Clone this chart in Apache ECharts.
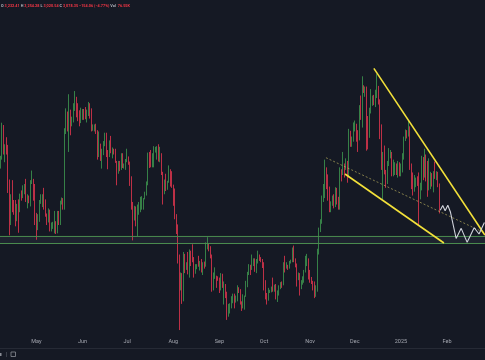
<!DOCTYPE html>
<html>
<head>
<meta charset="utf-8">
<script src="https://cdn.jsdelivr.net/npm/echarts@6/dist/echarts.min.js"></script>
<style>
html,body{margin:0;padding:0;background:#151924;}
#c{width:485px;height:360px;}
</style>
</head>
<body>
<div id="c"></div>
<script>
// ---- categories (daily) ----
const startDate = '2024-04-07';
const totalDays = 326; // visible daily slots, Apr 7 2024 .. Feb 26 2025
const monthTickLabels = {
  '2024-05':'May','2024-06':'Jun','2024-07':'Jul','2024-08':'Aug','2024-09':'Sep',
  '2024-10':'Oct','2024-11':'Nov','2024-12':'Dec','2025-01':'2025','2025-02':'Feb'
};

// ---- daily candles: [open, close, low, high] ----
const candlesApr = [
[3380,3455,3370,3470],[3455,3700,3440,3728],[3700,3505,3480,3710],[3505,3545,3420,3560],
[3545,3505,3480,3615],[3505,3240,3180,3555],[3240,3005,2850,3285],[3005,3155,2930,3170],
[3155,3100,3030,3280],[3100,3085,3010,3125],[3085,2985,2920,3125],[2985,3065,2960,3095],
[3065,3060,2870,3130],[3060,3155,3030,3175],[3155,3145,3120,3200],[3145,3200,3140,3240],
[3200,3220,3170,3250],[3220,3140,3110,3290],[3140,3155,3060,3170],[3155,3130,3100,3160],
[3130,3255,3075,3280],[3255,3265,3250,3355],[3265,3215,3120,3290],[3215,3010,2930,3250]
];
const candlesMay = [
[3010,2970,2815,3025],[2970,2990,2890,3015],[2990,3105,2955,3125],[3105,3120,3095,3170],
[3120,3135,3070,3170],[3135,3065,3050,3220],[3065,3005,2995,3130],[3005,2975,2930,3020],
[2975,3035,2950,3060],[3035,2910,2880,3050],[2910,2915,2880,2950],[2915,2930,2900,2955],
[2930,2950,2865,3040],[2950,2880,2860,2960],[2880,3035,2865,3040],[3035,2945,2930,3040],
[2945,3095,2930,3120],[3095,3120,3090,3145],[3120,3070,3050,3140],[3070,3665,3050,3685],
[3665,3790,3640,3840],[3790,3740,3660,3815],[3740,3780,3500,3950],[3780,3725,3630,3830],
[3725,3750,3700,3775],[3750,3825,3730,3880],[3825,3890,3820,3975],[3890,3845,3770,3930],
[3845,3765,3740,3880],[3765,3745,3700,3825],[3745,3760,3725,3845]
];
const candlesJun = [
[3760,3815,3750,3835],[3815,3780,3750,3835],[3780,3765,3755,3850],[3765,3810,3730,3830],
[3810,3865,3780,3890],[3865,3810,3760,3880],[3810,3680,3660,3840],[3680,3680,3665,3715],
[3680,3705,3660,3715],[3705,3665,3640,3720],[3665,3500,3440,3670],[3500,3560,3460,3660],
[3560,3470,3430,3565],[3470,3480,3370,3525],[3480,3565,3475,3585],[3565,3620,3545,3650],
[3620,3510,3460,3650],[3510,3485,3365,3515],[3485,3560,3460,3590],[3560,3515,3490,3625],
[3515,3520,3450,3535],[3520,3495,3480,3525],[3495,3420,3415,3525],[3420,3350,3240,3430],
[3350,3390,3330,3430],[3390,3370,3350,3430],[3370,3450,3360,3490],[3450,3380,3375,3490],
[3380,3380,3370,3410],[3380,3435,3360,3445]
];
const candlesJul = [
[3435,3440,3420,3525],[3440,3420,3400,3465],[3420,3295,3235,3425],[3295,3060,3050,3310],
[3060,2985,2810,3110],[2985,3070,2965,3080],[3070,2930,2920,3075],[2930,3020,2840,3090],
[3020,3065,3010,3110],[3065,3100,3030,3150],[3100,3100,3050,3155],[3100,3130,3050,3140],
[3130,3180,3130,3190],[3180,3245,3160,3270],[3245,3485,3240,3495],[3485,3445,3375,3500],
[3445,3390,3380,3515],[3390,3425,3380,3490],[3425,3505,3380,3545],[3505,3515,3495,3540],
[3515,3535,3440,3545],[3535,3440,3425,3560],[3440,3480,3420,3540],[3480,3335,3320,3490],
[3335,3170,3090,3345],[3170,3275,3170,3285],[3275,3250,3195,3330],[3250,3270,3205,3275],
[3270,3320,3260,3395],[3320,3280,3230,3365],[3280,3230,3220,3350]
];
const candlesAug = [
[3230,3200,3080,3245],[3200,2990,2975,3215],[2990,2900,2860,3015],[2900,2690,2630,2935],
[2690,2420,2111,2700],[2420,2460,2420,2560],[2460,2345,2315,2555],[2345,2680,2335,2720],
[2680,2600,2555,2705],[2600,2610,2580,2640],[2610,2555,2545,2720],[2555,2725,2520,2740],
[2725,2700,2610,2730],[2700,2660,2640,2780],[2660,2570,2520,2680],[2570,2590,2550,2625],
[2590,2615,2585,2625],[2615,2610,2605,2690],[2610,2635,2575,2650],[2635,2575,2560,2665],
[2575,2630,2540,2640],[2630,2620,2590,2645],[2620,2760,2605,2795],[2760,2770,2740,2835],
[2770,2750,2725,2790],[2750,2680,2670,2765],[2680,2460,2410,2700],[2460,2530,2420,2560],
[2530,2530,2510,2600],[2530,2525,2440,2535],[2525,2510,2495,2530]
];
const candlesSep = [
[2510,2425,2400,2520],[2425,2540,2420,2555],[2540,2450,2440,2550],[2450,2450,2310,2490],
[2450,2370,2360,2470],[2370,2225,2190,2410],[2225,2275,2215,2315],[2275,2300,2240,2320],
[2300,2360,2280,2375],[2360,2390,2320,2395],[2390,2340,2280,2395],[2340,2360,2325,2380],
[2360,2440,2335,2460],[2440,2420,2400,2445],[2420,2315,2310,2430],[2315,2290,2260,2335],
[2290,2340,2280,2390],[2340,2375,2270,2380],[2375,2465,2370,2495],[2465,2560,2445,2565],
[2560,2615,2540,2625],[2615,2580,2540,2620],[2580,2645,2580,2700],[2645,2655,2610,2670],
[2655,2580,2565,2670],[2580,2635,2555,2665],[2635,2700,2630,2730],[2700,2675,2650,2700],
[2675,2660,2640,2680],[2660,2605,2595,2665]
];
const candlesOct = [
[2605,2450,2420,2640],[2450,2365,2350,2500],[2365,2350,2310,2400],[2350,2415,2340,2440],
[2415,2415,2400,2425],[2415,2440,2405,2450],[2440,2420,2410,2520],[2420,2440,2410,2465],
[2440,2370,2350,2470],[2370,2390,2330,2420],[2390,2440,2380,2460],[2440,2475,2430,2485],
[2475,2470,2440,2490],[2470,2630,2460,2640],[2630,2605,2560,2690],[2605,2615,2590,2640],
[2615,2600,2580,2620],[2600,2640,2590,2650],[2640,2645,2630,2660],[2645,2745,2640,2755],
[2745,2665,2640,2770],[2665,2620,2600,2670],[2620,2525,2450,2630],[2525,2535,2500,2560],
[2535,2440,2380,2555],[2440,2480,2430,2500],[2480,2505,2465,2530],[2505,2570,2480,2580],
[2570,2640,2560,2690],[2640,2660,2610,2705],[2660,2520,2505,2670]
];
const candlesNov = [
[2520,2515,2480,2580],[2515,2490,2470,2525],[2490,2460,2420,2495],[2460,2400,2360,2490],
[2400,2420,2370,2460],[2420,2720,2410,2745],[2720,2895,2700,2910],[2895,2960,2875,2975],
[2960,3125,2940,3160],[3125,3180,3110,3250],[3180,3370,3140,3440],[3370,3245,3210,3380],
[3245,3185,3120,3325],[3185,3060,3030,3230],[3060,3095,3030,3115],[3095,3135,3080,3160],
[3135,3075,3060,3170],[3075,3210,3070,3225],[3210,3105,3090,3220],[3105,3070,3050,3150],
[3070,3355,3050,3380],[3355,3330,3270,3365],[3330,3390,3320,3500],[3390,3360,3300,3410],
[3360,3415,3360,3450],[3415,3325,3260,3430],[3325,3655,3300,3680],[3655,3580,3540,3665],
[3580,3590,3540,3620],[3590,3705,3580,3730]
];
const candlesDec = [
[3705,3705,3660,3745],[3705,3640,3580,3720],[3640,3615,3500,3670],[3615,3830,3590,3865],
[3830,3790,3750,3940],[3790,4000,3690,4090],[4000,3995,3960,4020],[3995,4005,3930,4010],
[4005,3710,3510,4010],[3710,3630,3520,3780],[3630,3830,3610,3845],[3830,3880,3800,3990],
[3880,3905,3860,3940],[3905,3875,3865,3945],[3875,3960,3850,3985],[3960,3985,3920,4107],
[3985,3890,3870,4015],[3890,3630,3600,3910],[3630,3420,3360,3715],[3420,3470,3130,3500],
[3470,3330,3325,3550],[3330,3280,3220,3360],[3280,3415,3250,3430],[3415,3490,3390,3530],
[3490,3490,3450,3515],[3490,3330,3310,3500],[3330,3330,3310,3440],[3330,3400,3320,3420],
[3400,3350,3320,3410],[3350,3360,3300,3430],[3360,3330,3310,3420]
];
const candlesJan = [
[3330,3350,3310,3410],[3350,3450,3340,3490],[3450,3605,3440,3620],[3605,3655,3585,3675],
[3655,3635,3605,3670],[3635,3685,3620,3745],[3685,3380,3360,3700],[3380,3325,3210,3410],
[3325,3220,3160,3340],[3220,3265,3190,3320],[3265,3280,3225,3300],[3280,3265,3235,3310],
[3265,3135,2930,3340],[3135,3225,3130,3260],[3225,3450,3200,3470],[3450,3310,3280,3460],
[3310,3470,3300,3525],[3470,3305,3270,3480],[3305,3215,3150,3430],[3215,3290,3200,3450],
[3290,3325,3210,3345],[3325,3240,3230,3335],[3240,3340,3185,3350],[3340,3310,3290,3425],
[3310,3315,3280,3350],[3315,3232.41,3225,3345],[3232.41,3078.35,3020.54,3254.28]
];

// ---- horizontal support zone (price) ----
const zoneTop = 2841;
const zoneBottom = 2786;

// ---- drawings: [day index from start, price] ----
const upperTrend = [[250.8,4152],[325.4,2852]];
const lowerTrend = [[231.4,3328],[297.9,2790]];
const midDotted  = [[218.6,3455],[325.4,2868]];
const projection = [[295.4,3045],[297.1,3082],[298.7,3042],[300.5,3084],[302.2,3034],
  [306.1,2825],[309.5,2904],[313.5,2795],[318.2,2909],[321.5,2860],[325.1,2950]];

// ---- header legend values ----
const header = {O:'3,232.41', H:'3,254.28', L:'3,020.54', C:'3,078.35', chg:'\u2212154.06 (\u22124.77%)', vol:'76.55K'};

// build categories
const categories = [];
(function(){
  const d0 = new Date(startDate + 'T00:00:00Z');
  for (let i = 0; i < totalDays; i++) {
    const d = new Date(d0.getTime() + i * 86400000);
    const y = d.getUTCFullYear(), m = String(d.getUTCMonth()+1).padStart(2,'0'), dd = String(d.getUTCDate()).padStart(2,'0');
    categories.push(y + '-' + m + '-' + dd);
  }
})();
const candles = [].concat(candlesApr, candlesMay, candlesJun, candlesJul, candlesAug,
  candlesSep, candlesOct, candlesNov, candlesDec, candlesJan);

const xMin = -0.5, xMax = totalDays - 0.5;
const UP = '#3f9b51', DOWN = '#e8364f', ZONE = '#4b8d4f';
const chart = echarts.init(document.getElementById('c'), null, {renderer:'canvas'});
const fs = 3.8;
chart.setOption({
  backgroundColor: '#151924',
  animation: false,
  title: {
    left: 1, top: 4, padding: 0,
    text: '{l|O}{v|' + header.O + '} {l|H}{v|' + header.H + '} {l|L}{v|' + header.L + '} {l|C}{v|' + header.C + '} {v|' + header.chg + '} {l|Vol} {v|' + header.vol + '}',
    textStyle: {
      fontSize: fs, fontFamily: 'Roboto', color: '#b2b5be',
      rich: {
        l: {color: '#b2b5be', fontSize: fs, fontFamily: 'Roboto', padding: [0,1,0,0]},
        v: {color: '#f23645', fontSize: fs, fontFamily: 'Roboto'}
      }
    }
  },
  grid: {left: 0, right: 0, top: 0, bottom: 27},
  xAxis: [{
    type: 'category', data: categories, boundaryGap: true,
    axisLine: {show: false}, axisTick: {show: false}, splitLine: {show: false},
    axisLabel: {
      color: '#a3a6af', fontSize: 5.5, fontFamily: 'Roboto', margin: 6,
      interval: function (idx, val) { return val.slice(8) === '01' && monthTickLabels[val.slice(0,7)] !== undefined; },
      formatter: function (val) { return monthTickLabels[val.slice(0,7)] || ''; }
    }
  }, {
    type: 'value', min: xMin, max: xMax, show: false
  }],
  yAxis: {type: 'value', min: 2088, max: 4685, show: false, splitLine: {show: false}, scale: true},
  series: [{
    type: 'candlestick', xAxisIndex: 0, data: candles, barWidth: 1.1, z: 2,
    itemStyle: {color: UP, color0: DOWN, borderColor: UP, borderColor0: DOWN, borderWidth: 0.8},
    markArea: {
      silent: true,
      itemStyle: {color: 'rgba(120,130,145,0.10)', borderWidth: 0},
      data: [[{yAxis: zoneBottom}, {yAxis: zoneTop}]]
    }
  }, {
    type: 'line', xAxisIndex: 1, data: [[xMin, zoneTop],[xMax, zoneTop]], showSymbol: false, silent: true, z: 3,
    lineStyle: {color: ZONE, width: 1}
  }, {
    type: 'line', xAxisIndex: 1, data: [[xMin, zoneBottom],[xMax, zoneBottom]], showSymbol: false, silent: true, z: 3,
    lineStyle: {color: ZONE, width: 1}
  }, {
    type: 'line', xAxisIndex: 1, data: midDotted, showSymbol: false, silent: true, z: 4,
    lineStyle: {color: 'rgba(190,180,95,0.65)', width: 1, type: [2, 2]}
  }, {
    type: 'line', xAxisIndex: 1, data: upperTrend, showSymbol: false, silent: true, z: 5,
    lineStyle: {color: '#f3e13a', width: 1.6}
  }, {
    type: 'line', xAxisIndex: 1, data: lowerTrend, showSymbol: false, silent: true, z: 5,
    lineStyle: {color: '#f3e13a', width: 1.6}
  }, {
    type: 'line', xAxisIndex: 1, data: projection, showSymbol: false, silent: true, z: 5,
    lineStyle: {color: '#d1d4dc', width: 1.1}
  }],
  graphic: [
    {type: 'line', shape: {x1: 0, y1: 348.5, x2: 485, y2: 348.5}, style: {stroke: '#262a35', lineWidth: 1}},
    {type: 'line', shape: {x1: 6.5, y1: 352, x2: 6.5, y2: 357}, style: {stroke: '#3a3e49', lineWidth: 1}},
    {type: 'rect', shape: {x: 11, y: 352, width: 4.5, height: 4.5}, style: {fill: 'none', stroke: '#8a8d96', lineWidth: 0.8}},
    {type: 'rect', shape: {x: 0, y: 353, width: 1.5, height: 3}, style: {fill: '#8a8d96'}}
  ]
});
</script>
</body>
</html>
